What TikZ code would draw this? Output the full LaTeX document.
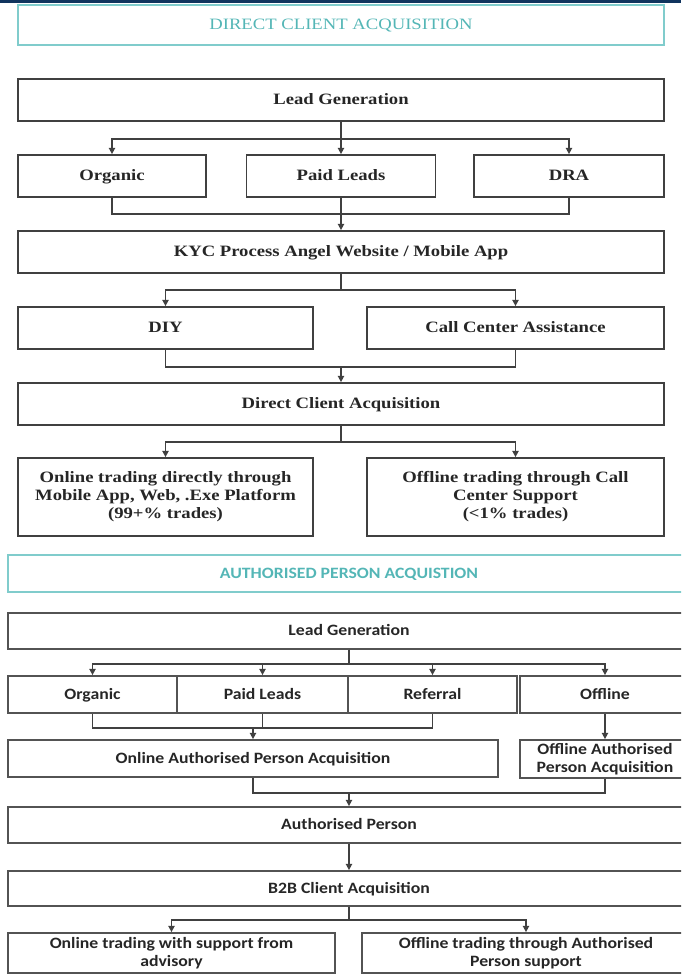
\documentclass[tikz,border=0pt]{standalone}
\usepackage{fontspec}
\setmainfont{Liberation Serif}
\newfontfamily\dcfont[FakeStretch=1.18]{Liberation Serif}
\newfontfamily\apfont[FakeStretch=1.12]{Carlito}
\usetikzlibrary{arrows.meta,positioning}
\definecolor{tealtext}{RGB}{84,182,182}
\definecolor{tealline}{RGB}{128,204,204}
\definecolor{boxline}{RGB}{64,64,64}
\definecolor{navy}{RGB}{16,52,94}

\begin{document}
\begin{tikzpicture}[
    x=0.02cm, y=-0.02cm,
    sz/.style 2 args={minimum width=#1*0.02cm, minimum height=#2*0.02cm},
    box/.style={rectangle, draw=boxline, line width=1pt, inner sep=1pt, align=center, text=black!85},
    oneline/.style={text height=1.5ex, text depth=0.35ex},
    dcbig/.style={box, font=\dcfont\bfseries\fontsize{9}{10.2}\selectfont},
    apbig/.style={box, draw=boxline!90, font=\apfont\bfseries\fontsize{9}{10}\selectfont},
    dcbox/.style={dcbig, oneline},
    apbox/.style={apbig, oneline},
    titlebox/.style={rectangle, draw=tealline, line width=1.1pt, text=tealtext, oneline},
    arrow/.style={-{Triangle[length=3.5pt,width=3.5pt]}, line width=0.8pt, draw=boxline},
    line/.style={line width=0.8pt, draw=boxline}
]
    \useasboundingbox (0,0) rectangle (681,975);
    \clip (0,0) rectangle (681,975);
    \fill[navy] (0,0) rectangle (681,3);

    % Direct client acquisition
    \node[titlebox, sz={646}{40}, font=\dcfont\fontsize{9}{10}\selectfont] (t1) at (341,25) {DIRECT CLIENT ACQUISITION};
    \node[dcbox, sz={646}{42}] (lg1) at (341,100) {Lead Generation};
    \node[dcbox, sz={188}{42}] (org1) at (112,176) {Organic};
    \node[dcbox, sz={189}{42}] (paid1) at (341,176) {Paid Leads};
    \node[dcbox, sz={190}{42}] (dra1) at (569,176) {DRA};
    \node[dcbox, sz={646}{42}] (kyc) at (341,252) {KYC Process Angel Website / Mobile App};
    \node[dcbox, sz={295}{42}] (diy) at (165.5,328) {DIY};
    \node[dcbox, sz={297}{42}] (cca) at (515.5,328) {Call Center Assistance};
    \node[dcbox, sz={646}{42}] (dca) at (341,404) {Direct Client Acquisition};
    \node[dcbig, sz={295}{78}] (onl1) at (165.5,497) {Online trading directly through\\Mobile App, Web, .Exe Platform\\(99+\% trades)};
    \node[dcbig, sz={297}{78}] (off1) at (515.5,497) {Offline trading through Call\\Center Support\\(<1\% trades)};

    \draw[arrow] (lg1.south) -- ++(0,17) -| (org1.north);
    \draw[arrow] (lg1.south) -- ++(0,17) -| (dra1.north);
    \draw[arrow] (lg1) -- (paid1);
    \draw[line] (org1.south) -- ++(0,16) -| (dra1.south);
    \draw[arrow] (paid1) -- (kyc);
    \draw[arrow] (kyc.south) -- ++(0,16) -| (diy.north);
    \draw[arrow] (kyc.south) -- ++(0,16) -| (cca.north);
    \draw[line] (diy.south) -- ++(0,17) coordinate (m1) -| (cca.south);
    \draw[arrow] (dca.north |- m1) -- (dca.north);
    \draw[arrow] (dca.south) -- ++(0,16) -| (onl1.north);
    \draw[arrow] (dca.south) -- ++(0,16) -| (off1.north);

    % Authorised person acquisition
    \node[titlebox, sz={682}{37}, font=\apfont\bfseries\fontsize{9}{10}\selectfont] (t2) at (349,573.5) {AUTHORISED PERSON ACQUISTION};
    \node[apbox, sz={682}{36}] (lg2) at (349,631) {Lead Generation};
    \node[apbox, sz={169}{37}] (org2) at (92.5,694.5) {Organic};
    \node[apbox, sz={171}{37}] (paid2) at (262.5,694.5) {Paid Leads};
    \node[apbox, sz={169}{37}] (ref2) at (432.5,694.5) {Referral};
    \node[apbox, sz={170}{37}] (off2) at (605,694.5) {Offline};
    \node[apbox, sz={490}{37}] (onap) at (253,758.5) {Online Authorised Person Acquisition};
    \node[apbig, sz={170}{38}] (offap) at (605,759) {Offline Authorised\\Person Acquisition};
    \node[apbox, sz={682}{36}] (ap) at (349,825) {Authorised Person};
    \node[apbox, sz={682}{35}] (b2b) at (349,888.5) {B2B Client Acquisition};
    \node[apbig, sz={327}{40}] (onl2) at (171.5,953) {Online trading with support from\\advisory};
    \node[apbig, sz={328}{40}] (off2b) at (526,953) {Offline trading through Authorised\\Person support};

    \draw[arrow] (lg2.south) -- ++(0,14) -| (org2.north);
    \draw[arrow] (lg2.south) -- ++(0,14) -| (paid2.north);
    \draw[arrow] (lg2.south) -- ++(0,14) -| (ref2.north);
    \draw[arrow] (lg2.south) -- ++(0,14) -| (off2.north);
    \draw[line] (org2.south) -- ++(0,14) coordinate (m2) -| (ref2.south);
    \draw[line] (paid2.south) -- (paid2.south |- m2);
    \draw[arrow] (onap.north |- m2) -- (onap.north);
    \draw[arrow] (off2) -- (offap);
    \draw[line] (onap.south) -- ++(0,15) coordinate (m3) -| (offap.south);
    \draw[arrow] (ap.north |- m3) -- (ap.north);
    \draw[arrow] (ap) -- (b2b);
    \draw[arrow] (b2b.south) -- ++(0,13) -| (onl2.north);
    \draw[arrow] (b2b.south) -- ++(0,13) -| (off2b.north);
\end{tikzpicture}
\end{document}
